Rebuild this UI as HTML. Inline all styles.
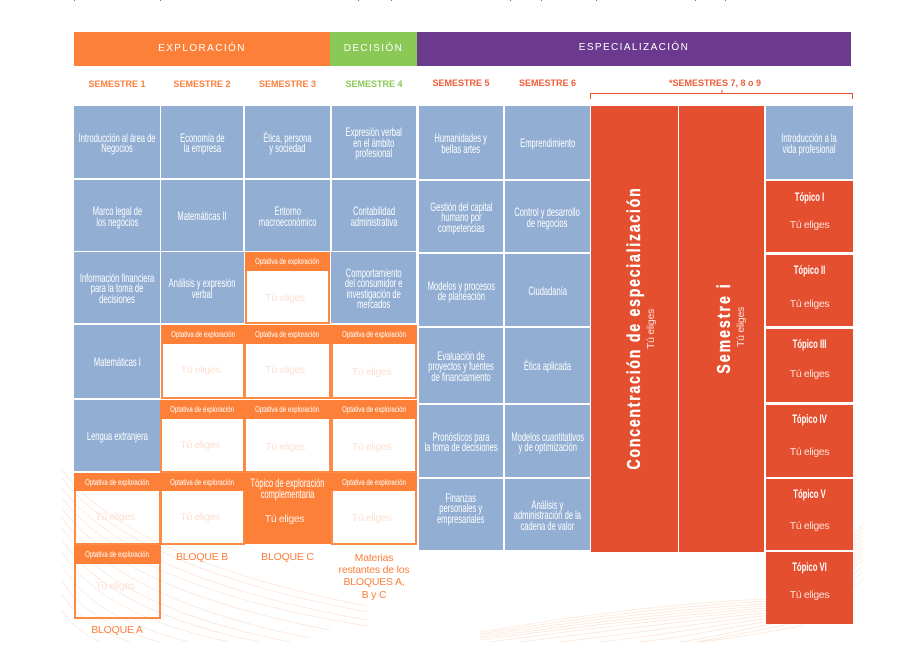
<!DOCTYPE html>
<html><head><meta charset="utf-8"><style>
html,body{margin:0;padding:0;background:#fff}
#p{position:relative;width:898px;height:649px;overflow:hidden;background:#fff;font-family:"Liberation Sans",sans-serif}
#p>svg{position:absolute;left:0;top:0}
.b,.o,.h,.s,.t,.c{position:absolute;display:flex;align-items:center;justify-content:center;text-align:center;box-sizing:border-box}
.b{background:#92aed3;color:#fff;font-size:12px;line-height:10.4px}
.b span{display:block;white-space:nowrap;transform:translateY(1px) scaleX(.63)}
.h{top:32px;height:34px;color:#fff;font-size:10px;letter-spacing:1.4px;padding-bottom:2px}
.s{top:76px;height:16px;font-size:9px;font-weight:bold;letter-spacing:0;color:#fb7f3d;white-space:nowrap}
.o{background:#fff;border:2px solid #fd8a45;border-top:0;align-items:flex-start;color:#fde0d2;font-size:10.5px}
.o i{position:absolute;left:-2px;right:-2px;top:0;height:19px;background:#fd8039;color:#fff;font-style:normal;display:flex;align-items:center;justify-content:center;font-size:8px;white-space:nowrap}
.o i u{text-decoration:none;display:block;transform:scaleX(.76)}
.o b{position:absolute;left:0;right:0;font-weight:normal;white-space:nowrap;letter-spacing:-.35px;transform:translateX(-2.5px)}
.r{background:#e4502f}
.r em{position:absolute;left:0;right:0;font-style:normal;font-weight:bold;display:block;transform:scaleX(.64);font-size:12px;white-space:nowrap}
.r b{position:absolute;left:0;right:0;font-weight:normal;font-size:10.5px;letter-spacing:-.35px;color:#fbe0d8}
.t{color:#fb7f3d;font-size:10.5px;line-height:12.2px;letter-spacing:-.2px}
.c{background:#e4502f}
.v{position:absolute;white-space:nowrap;color:#fff;line-height:1}
</style></head><body><div id="p">
<svg width="898" height="649" fill="none">
<g stroke="#fce4d5" stroke-width=".7">
<path d="M62 470Q130 560 367 606M62 478Q130 568 367 612M62 488Q130 578 367 620M62 498Q130 588 367 626M62 508Q120 590 330 630M62 518Q120 600 310 638M62 528Q110 606 290 642M62 540Q110 612 260 642M62 552Q100 615 230 642M62 566Q95 620 190 642M62 580Q85 622 160 642M62 594Q80 625 130 642M62 610Q72 628 100 642"/>
<path d="M480 632C600 612 700 600 800 598L863 524M480 634C600 615 700 603 800 600L863 528M480 636C600 618 700 606 800 602L863 532M480 638C600 621 700 609 800 604L863 536M480 640C600 624 700 612 800 606L863 540M490 642C600 627 700 615 800 608L863 544M520 642C620 630 700 618 800 610L863 548M560 642C640 633 710 621 800 612L863 552M600 642C660 636 720 624 800 614L863 556M640 642C680 638 730 627 800 616L863 560M680 642C710 638 740 630 800 618L863 566M695 642C720 638 750 632 800 622L863 572M700 642C730 638 760 634 800 626L863 580"/>
</g>
<path d="M590.500 99V93.500H852.500V99M722 93.500V90" stroke="#e4502f" stroke-width="1"/>
<g fill="#777"><rect x="74" y="0" width="1" height="1"/><rect x="160" y="0" width="1" height="1"/><rect x="358" y="0" width="1" height="1"/><rect x="391" y="0" width="1" height="1"/><rect x="510" y="0" width="1" height="1"/><rect x="541" y="0" width="1" height="1"/><rect x="596" y="0" width="1" height="1"/><rect x="695" y="0" width="1" height="1"/><rect x="725" y="0" width="1" height="1"/></g>
</svg>

<div class="h" style="left:74px;width:256px;background:#fd8039">EXPLORACIÓN</div>
<div class="h" style="left:330px;width:87px;background:#8bc957">DECISIÓN</div>
<div class="h" style="left:417px;width:434px;background:#6b3a8f;padding-bottom:4px">ESPECIALIZACIÓN</div>

<div class="s" style="left:74px;width:86px">SEMESTRE 1</div>
<div class="s" style="left:161px;width:82px">SEMESTRE 2</div>
<div class="s" style="left:245px;width:85px">SEMESTRE 3</div>
<div class="s" style="left:332px;width:84px;color:#8bc957">SEMESTRE 4</div>
<div class="s" style="left:419px;width:84px;top:75px;color:#ec5f3a">SEMESTRE 5</div>
<div class="s" style="left:505px;width:85px;top:75px;color:#ec5f3a">SEMESTRE 6</div>
<div class="s" style="left:591px;width:248px;top:75px;color:#ec5f3a">*SEMESTRES 7, 8 o 9</div>

<div class="b" style="left:74px;top:106px;width:86px;height:72px"><span>Introducción al área de<br>Negocios</span></div>
<div class="b" style="left:74px;top:180px;width:86px;height:71px"><span>Marco legal de<br>los negocios</span></div>
<div class="b" style="left:74px;top:252px;width:86px;height:71px"><span>Información financiera<br>para la toma de<br>decisiones</span></div>
<div class="b" style="left:74px;top:325px;width:86px;height:73px"><span>Matemáticas I</span></div>
<div class="b" style="left:74px;top:400px;width:86px;height:71px"><span>Lengua extranjera</span></div>

<div class="b" style="left:161px;top:106px;width:82px;height:72px"><span>Economía de<br>la empresa</span></div>
<div class="b" style="left:161px;top:180px;width:82px;height:71px"><span>Matemáticas II</span></div>
<div class="b" style="left:161px;top:252px;width:83px;height:71px"><span>Análisis y expresión<br>verbal</span></div>

<div class="b" style="left:245px;top:106px;width:85px;height:72px"><span>Ética, persona<br>y sociedad</span></div>
<div class="b" style="left:245px;top:180px;width:85px;height:71px"><span>Entorno<br>macroeconómico</span></div>

<div class="b" style="left:332px;top:106px;width:84px;height:72px"><span>Expresión verbal<br>en el ámbito<br>profesional</span></div>
<div class="b" style="left:332px;top:180px;width:84px;height:71px"><span>Contabilidad<br>administrativa</span></div>
<div class="b" style="left:331px;top:252px;width:85px;height:71px"><span>Comportamiento<br>del consumidor e<br>investigación de<br>mercados</span></div>

<div class="o" style="left:245px;top:252px;width:85px;height:72px"><i><u>Optativa de exploración</u></i><b style="top:40px">Tú eliges</b></div>

<div class="o" style="left:161px;top:325px;width:84px;height:74px"><i><u>Optativa de exploración</u></i><b style="top:39px">Tú eliges</b></div>
<div class="o" style="left:244px;top:325px;width:87px;height:74px"><i><u>Optativa de exploración</u></i><b style="top:39px">Tú eliges</b></div>
<div class="o" style="left:331px;top:325px;width:86px;height:74px"><i><u>Optativa de exploración</u></i><b style="top:41px">Tú eliges</b></div>

<div class="o" style="left:160px;top:400px;width:85px;height:73px"><i><u>Optativa de exploración</u></i><b style="top:39px">Tú eliges</b></div>
<div class="o" style="left:244px;top:400px;width:87px;height:73px"><i><u>Optativa de exploración</u></i><b style="top:41px">Tú eliges</b></div>
<div class="o" style="left:331px;top:400px;width:86px;height:73px"><i><u>Optativa de exploración</u></i><b style="top:41px">Tú eliges</b></div>

<div class="o" style="left:74px;top:473px;width:87px;height:72px;background:transparent"><i style="height:18px"><u>Optativa de exploración</u></i><b style="top:38px">Tú eliges</b></div>
<div class="o" style="left:160px;top:473px;width:85px;height:72px"><i style="height:18px"><u>Optativa de exploración</u></i><b style="top:38px">Tú eliges</b></div>
<div class="o" style="left:331px;top:473px;width:86px;height:72px"><i style="height:18px"><u>Optativa de exploración</u></i><b style="top:39px">Tú eliges</b></div>
<div class="o" style="left:74px;top:545px;width:87px;height:74px;background:transparent"><i style="height:19px"><u>Optativa de exploración</u></i><b style="top:35px">Tú eliges</b></div>

<div class="b" style="left:244px;top:473px;width:87px;height:71px;background:#fd8039;align-items:flex-start"><span style="position:absolute;left:-20px;right:-20px;top:4px;line-height:11.300px">Tópico de exploración<br>complementaria</span><b style="position:absolute;left:-3px;right:3px;top:40px;font-weight:normal;font-size:10.5px;line-height:12px;letter-spacing:-.35px;color:#fdeee4">Tú eliges</b></div>

<div class="t" style="left:161px;top:551px;width:82px">BLOQUE B</div>
<div class="t" style="left:245px;top:551px;width:85px">BLOQUE C</div>
<div class="t" style="left:332px;top:552px;width:84px">Materias<br>restantes de los<br>BLOQUES A,<br>B y C</div>
<div class="t" style="left:74px;top:624px;width:86px">BLOQUE A</div>

<div class="b" style="left:419px;top:106px;width:84px;height:73px"><span>Humanidades y<br>bellas artes</span></div>
<div class="b" style="left:419px;top:181px;width:84px;height:71px"><span>Gestión del capital<br>humano por<br>competencias</span></div>
<div class="b" style="left:419px;top:254px;width:84px;height:72px"><span>Modelos y procesos<br>de planeación</span></div>
<div class="b" style="left:419px;top:328px;width:84px;height:75px"><span>Evaluación de<br>proyectos y fuentes<br>de financiamiento</span></div>
<div class="b" style="left:419px;top:405px;width:84px;height:72px"><span>Pronósticos para<br>la toma de decisiones</span></div>
<div class="b" style="left:419px;top:479px;width:84px;height:71px;align-items:flex-start;padding-top:13px"><span>Finanzas<br>personales y<br>empresariales</span></div>

<div class="b" style="left:505px;top:106px;width:85px;height:73px"><span>Emprendimiento</span></div>
<div class="b" style="left:505px;top:181px;width:85px;height:71px"><span>Control y desarrollo<br>de negocios</span></div>
<div class="b" style="left:505px;top:254px;width:85px;height:72px"><span>Ciudadanía</span></div>
<div class="b" style="left:505px;top:328px;width:85px;height:75px"><span>Ética aplicada</span></div>
<div class="b" style="left:505px;top:405px;width:85px;height:72px"><span>Modelos cuantitativos<br>y de optimización</span></div>
<div class="b" style="left:505px;top:479px;width:85px;height:71px"><span>Análisis y<br>administración de la<br>cadena de valor</span></div>

<div class="c" style="left:591px;top:106px;width:87px;height:446px"></div>
<div class="c" style="left:679px;top:106px;width:85px;height:446px"></div>
<div class="v" style="left:634px;top:328px;font-size:18px;font-weight:bold;letter-spacing:2.3px;-webkit-text-stroke:.3px #fff;transform:translate(-50%,-50%) rotate(-90deg) scaleX(.78)">Concentración de especialización</div>
<div class="v" style="left:651px;top:329px;font-size:10.5px;letter-spacing:-.3px;color:#fbe0d8;transform:translate(-50%,-50%) rotate(-90deg)">Tú eliges</div>
<div class="v" style="left:724px;top:328px;font-size:18px;font-weight:bold;letter-spacing:2.6px;-webkit-text-stroke:.3px #fff;transform:translate(-50%,-50%) rotate(-90deg) scaleX(.78)">Semestre i</div>
<div class="v" style="left:741px;top:327px;font-size:10.5px;letter-spacing:-.3px;color:#fbe0d8;transform:translate(-50%,-50%) rotate(-90deg)">Tú eliges</div>

<div class="b" style="left:766px;top:106px;width:87px;height:73px"><span>Introducción a la<br>vida profesional</span></div>
<div class="b r" style="left:766px;top:181px;width:87px;height:71px;color:#fff"><em style="top:11px">Tópico I</em><b style="top:39px">Tú eliges</b></div>
<div class="b r" style="left:766px;top:255px;width:87px;height:71px;color:#fff"><em style="top:10px">Tópico II</em><b style="top:44px">Tú eliges</b></div>
<div class="b r" style="left:766px;top:329px;width:87px;height:73px;color:#fff"><em style="top:10px">Tópico III</em><b style="top:40px">Tú eliges</b></div>
<div class="b r" style="left:766px;top:405px;width:87px;height:72px;color:#fff"><em style="top:9px">Tópico IV</em><b style="top:42px">Tú eliges</b></div>
<div class="b r" style="left:766px;top:479px;width:87px;height:71px;color:#fff"><em style="top:10px">Tópico V</em><b style="top:42px">Tú eliges</b></div>
<div class="b r" style="left:766px;top:552px;width:87px;height:72px;color:#fff"><em style="top:10px">Tópico VI</em><b style="top:38px">Tú eliges</b></div>
</div></body></html>
